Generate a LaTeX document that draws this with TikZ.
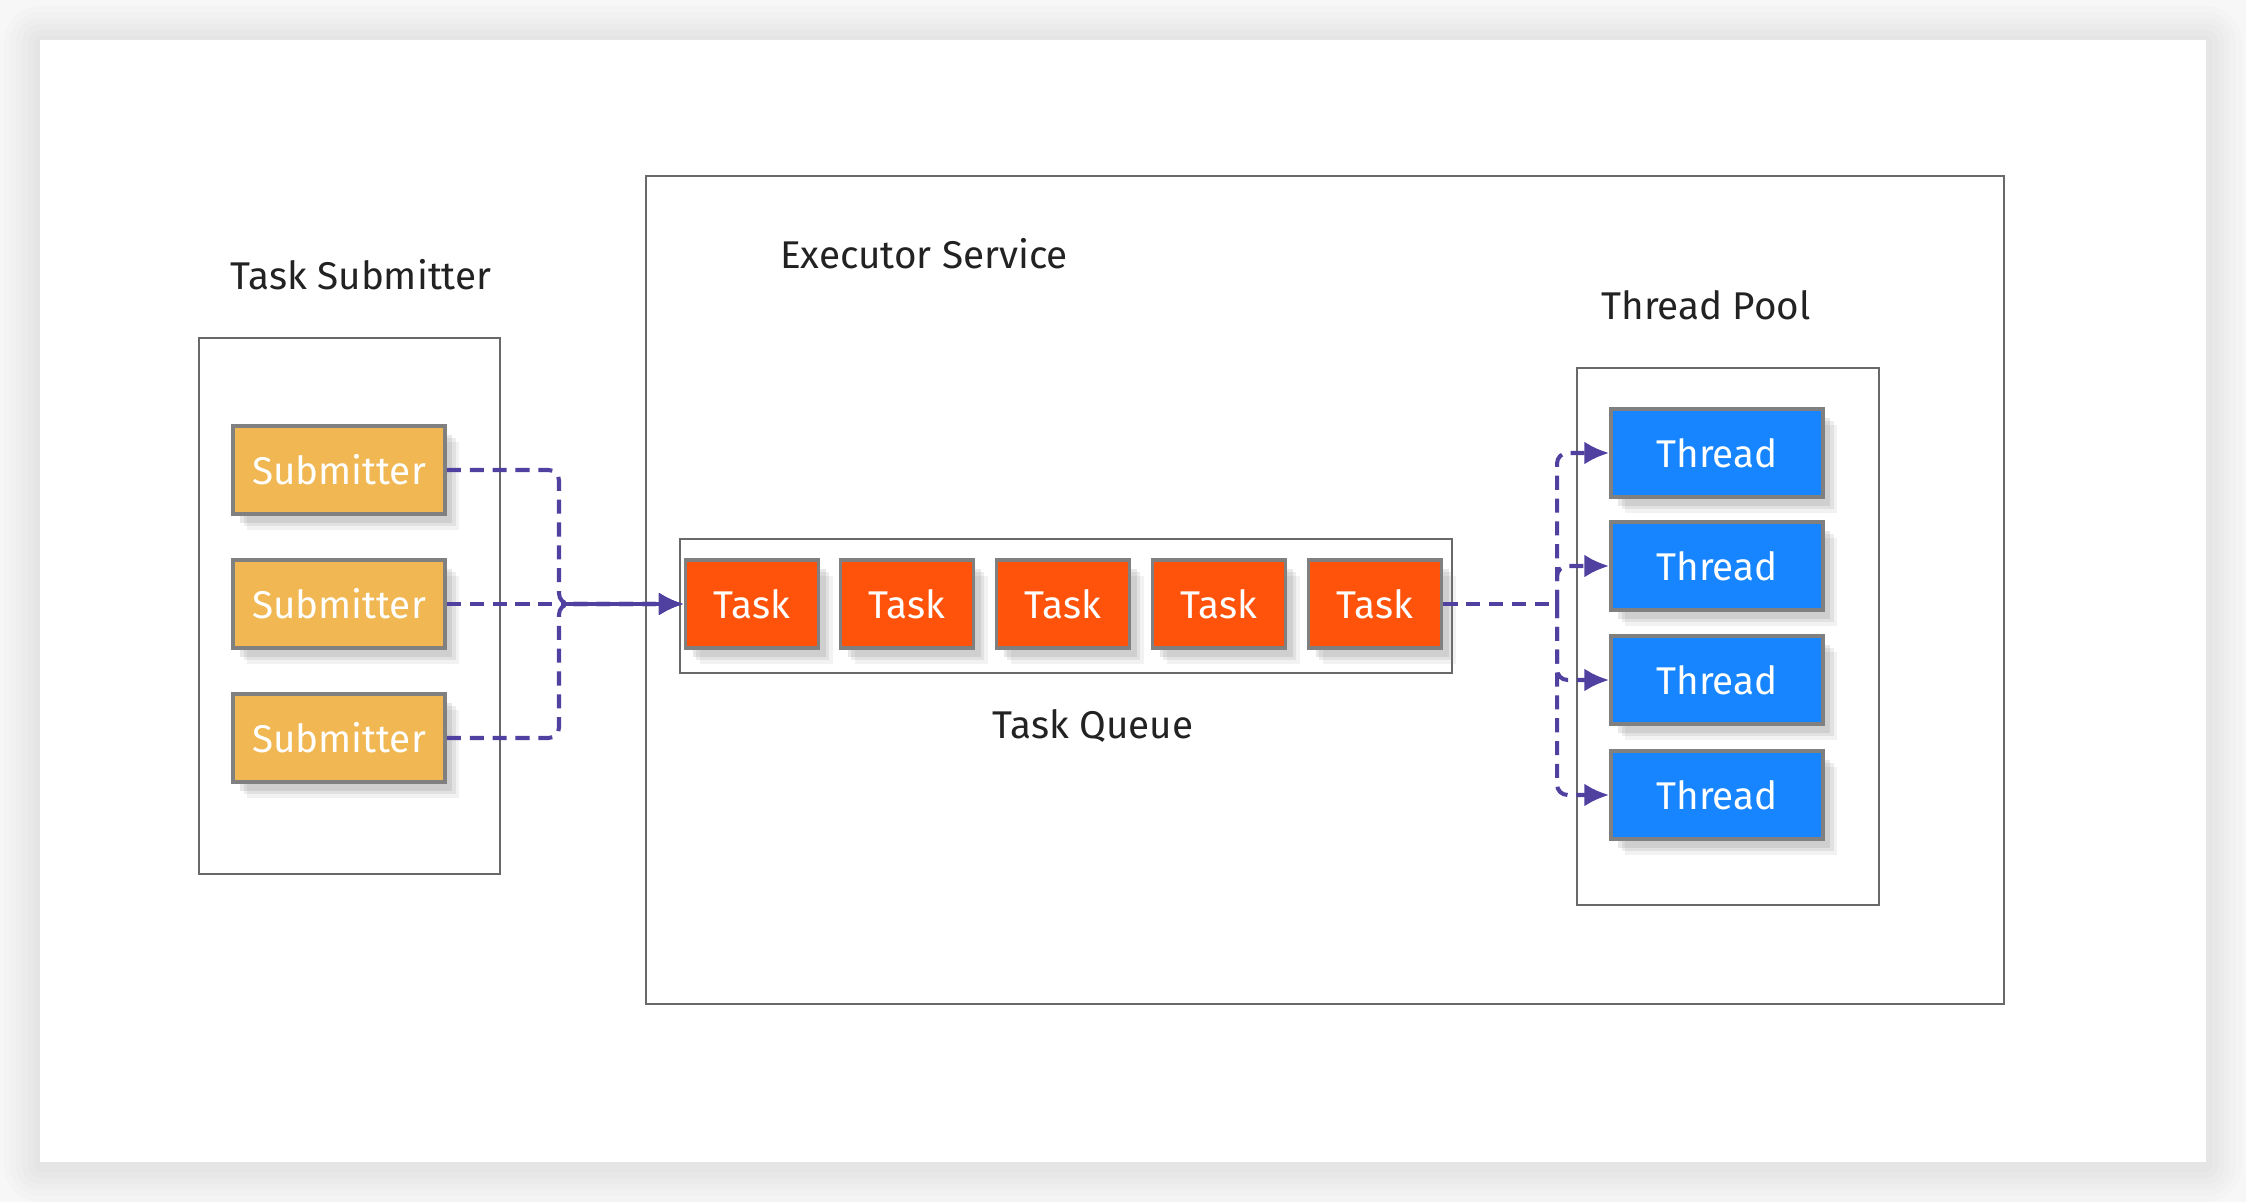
\documentclass[tikz,border=0pt]{standalone}
\usepackage{fontspec}
\setmainfont{Fira Sans}
\usetikzlibrary{arrows.meta,shadows}
\definecolor{subyellow} {RGB}{240,183, 82}
\definecolor{taskred}   {RGB}{255, 82, 10}
\definecolor{threadblue}{RGB}{ 22,133,255}
\definecolor{flowpurple}{RGB}{ 80, 64,160}
\definecolor{edgegray}  {RGB}{128,128,128}
\definecolor{framegray} {RGB}{105,105,105}
\definecolor{inkblack}  {RGB}{ 34, 34, 34}
\definecolor{pagegray}  {RGB}{247,247,247}

\begin{document}
\begin{tikzpicture}[
  every node/.style={font=\fontsize{11}{13}\selectfont},
  frame/.style={draw=framegray,line width=0.6pt},
  item/.style={draw=edgegray,line width=1.1pt,minimum height=0.88cm,text=white,
               drop shadow={shadow xshift=4pt,shadow yshift=-4.5pt,opacity=0.10},
               drop shadow={shadow xshift=3pt,shadow yshift=-3.5pt,opacity=0.14},
               drop shadow={shadow xshift=2pt,shadow yshift=-2.5pt,opacity=0.18}},
  submitter/.style={item,fill=subyellow,minimum width=2.12cm},
  task/.style={item,fill=taskred,minimum width=1.33cm},
  thread/.style={item,fill=threadblue,minimum width=2.12cm},
  title/.style={text=inkblack},
  flow/.style={flowpurple,line width=1.15pt,dash pattern=on 4pt off 2.5pt,
               rounded corners=3pt,-{Latex[length=7pt,width=6.5pt]}},
]

%% Page and card
\useasboundingbox (0,0) rectangle (22.46,-12.02);
\fill[pagegray] (0,0) rectangle (22.46,-12.02);
\foreach \d in {0.36,0.30,0.24,0.18,0.12,0.06}
  \fill[black,opacity=0.012,rounded corners=\d cm]
    ({0.40-\d},{-0.42+\d}) rectangle ({22.06+\d},{-11.66-\d});
\fill[white] (0.40,-0.40) rectangle (22.06,-11.62);

%% Task submitter group
\draw[frame] (1.99,-3.38) rectangle (5.00,-8.74);
\node[title] (subtitle) at (3.61,-2.75) {Task Submitter};
\node[submitter] (sub1) at (3.39,-4.70) {Submitter};
\node[submitter] (sub2) at (3.39,-6.04) {Submitter};
\node[submitter] (sub3) at (3.39,-7.38) {Submitter};

%% Executor service
\draw[frame] (6.46,-1.76) rectangle (20.04,-10.04);
\node[title] (exectitle) at (9.24,-2.54) {Executor Service};

%% Task queue
\draw[frame] (6.80,-5.39) rectangle (14.52,-6.73);
\node[task] (task1) at (7.52,-6.04)  {Task};
\node[task] (task2) at (9.07,-6.04)  {Task};
\node[task] (task3) at (10.63,-6.04) {Task};
\node[task] (task4) at (12.19,-6.04) {Task};
\node[task] (task5) at (13.75,-6.04) {Task};
\node[title] (queuetitle) at (10.93,-7.26) {Task Queue};

%% Thread pool
\draw[frame] (15.77,-3.68) rectangle (18.79,-9.05);
\node[title] (pooltitle) at (17.06,-3.05) {Thread Pool};
\node[thread] (thr1) at (17.17,-4.53) {Thread};
\node[thread] (thr2) at (17.17,-5.66) {Thread};
\node[thread] (thr3) at (17.17,-6.80) {Thread};
\node[thread] (thr4) at (17.17,-7.95) {Thread};

%% Submitters -> queue
\coordinate (inbus) at (5.59,-6.04);
\draw[flow] (sub1.east) -| (inbus) -- (task1.west);
\draw[flow] (sub2.east) -- (task1.west);
\draw[flow] (sub3.east) -| (inbus) -- (task1.west);

%% Queue -> threads
\coordinate (outbus) at (15.57,-6.04);
\draw[flow,-] (task5.east) -- (outbus);
\draw[flow] (outbus) |- (thr1.west);
\draw[flow] (outbus) |- (thr2.west);
\draw[flow] (outbus) |- (thr3.west);
\draw[flow] (outbus) |- (thr4.west);

\end{tikzpicture}
\end{document}
